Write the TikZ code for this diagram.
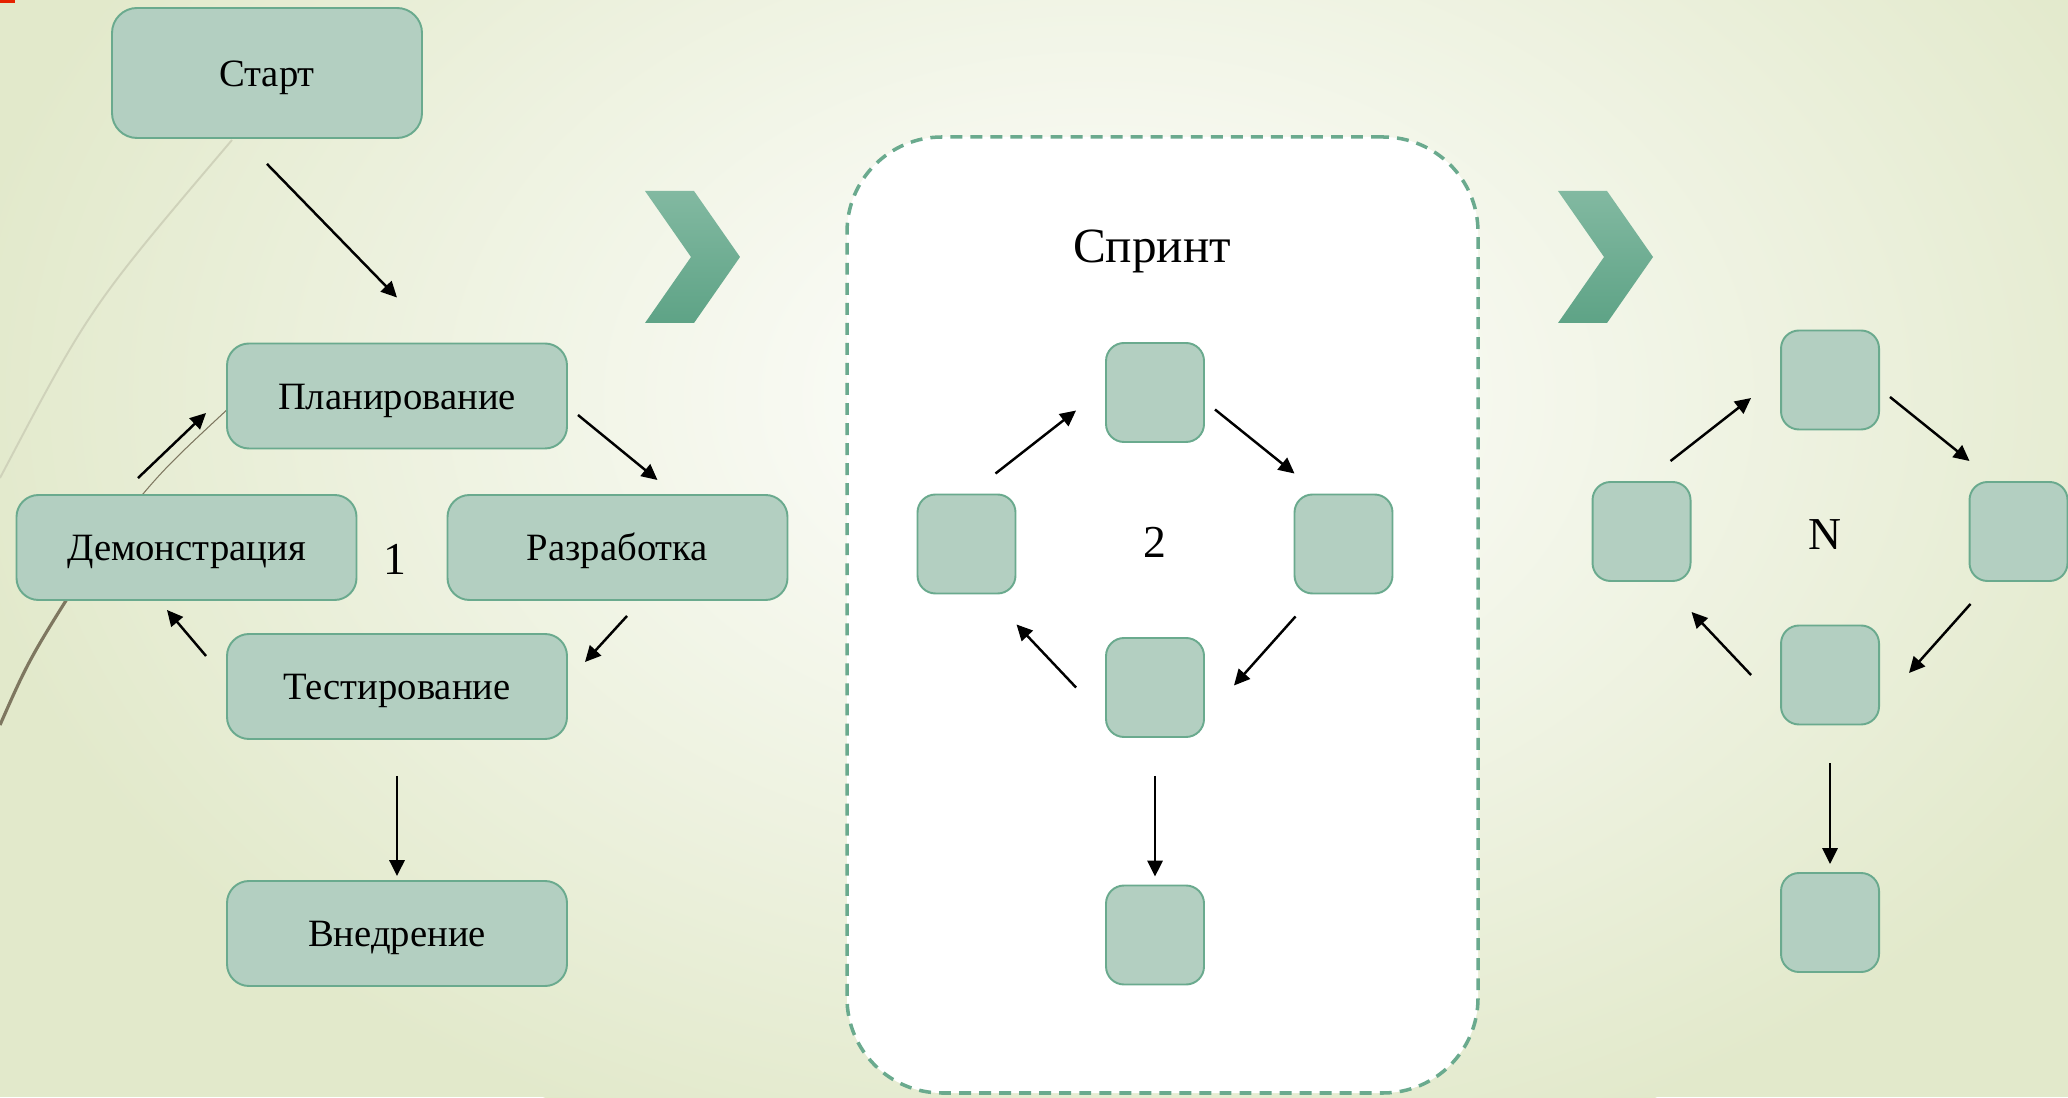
\documentclass[tikz,border=0pt]{standalone}
\usepackage{fontspec}
\setmainfont{Liberation Serif}
\usetikzlibrary{arrows.meta,shapes.geometric}

\definecolor{boxfill}{HTML}{B3CFC1}
\definecolor{boxline}{HTML}{6AAA8E}
\definecolor{bgouter}{HTML}{E2E9CB}
\definecolor{chevtop}{HTML}{82B9A1}
\definecolor{chevbot}{HTML}{5EA386}
\definecolor{wisplight}{HTML}{CFD2BA}
\definecolor{wispdark}{HTML}{7E7760}

\begin{document}
\begin{tikzpicture}[
    phase/.style={draw=boxline, line width=0.55pt, fill=boxfill, rounded corners=0.22cm,
      minimum width=3.4cm, minimum height=1.05cm, inner sep=0pt,
      text height=0.9em, text depth=0.14em, font=\fontsize{11}{13}\selectfont},
    cell/.style={draw=boxline, line width=0.55pt, fill=boxfill, rounded corners=0.18cm,
      minimum width=0.98cm, minimum height=0.99cm, inner sep=0pt},
    frame/.style={draw=boxline, line width=1pt, dash pattern=on 3.4pt off 2.3pt, fill=white,
      rounded corners=0.95cm, inner sep=0pt},
    flow/.style={-{Triangle[length=4.5pt,width=4.3pt]}, line width=0.7pt, black},
    chevron/.style={top color=chevtop, bottom color=chevbot},
    count/.style={font=\fontsize{13}{15}\selectfont},
]

\useasboundingbox (0,0) rectangle (20.68,10.97);

% Background
\fill[bgouter] (0,0) rectangle (20.68,10.97);
\begin{scope}
  \clip (0,0) rectangle (20.68,10.97);
  \shade[inner color=white, outer color=bgouter] (11.0,7.0) ellipse (11.5cm and 8cm);
\end{scope}
\fill[red!70!orange!90!black] (0,10.94) rectangle (0.15,10.97);
\draw[wisplight, line width=0.55pt] (0,6.19) .. controls (0.9,7.9) .. (2.32,9.57);
\draw[wispdark, line width=0.9pt] (0,3.72) .. controls (0.3,4.4) .. (1.0,5.5);
\draw[wispdark, line width=0.3pt] (1.0,5.5) .. controls (1.6,6.25) .. (2.3,6.9);

% First iteration
\node[phase, minimum width=3.1cm, minimum height=1.3cm, rounded corners=0.25cm] (start) at (2.67,10.24) {Старт};
\node[phase] (plan) at (3.97,7.01) {Планирование};
\node[phase] (demo) at (1.865,5.495) {Демонстрация};
\node[phase] (dev) at (6.175,5.495) {Разработка};
\node[phase] (test) at (3.97,4.105) {Тестирование};
\node[phase] (deploy) at (3.97,1.635) {Внедрение};
\node[count] (one) at (3.95,5.38) {1};

\draw[flow] ([yshift=-0.25cm]start.south) -- ([yshift=0.45cm]plan.north);
\draw[flow] ([xshift=0.10cm,yshift=-0.19cm]plan.east) -- ([xshift=0.40cm,yshift=0.14cm]dev.north);
\draw[flow] ([xshift=0.095cm,yshift=-0.15cm]dev.south) -- ([xshift=0.17cm,yshift=0.245cm]test.east);
\draw[flow] ([xshift=-0.20cm,yshift=0.305cm]test.west) -- ([xshift=-0.195cm,yshift=-0.09cm]demo.south);
\draw[flow] ([xshift=-0.485cm,yshift=0.16cm]demo.north) -- ([xshift=-0.20cm,yshift=-0.17cm]plan.west);
\draw[flow, shorten <=0.36cm, shorten >=0.04cm] (test.south) -- (deploy.north);

% Chevrons
\foreach \cx in {6.45,15.58}{
  \shade[chevron] (\cx,9.06) -- ++(0.49,0) -- ++(0.46,-0.66) -- ++(-0.46,-0.66)
    -- ++(-0.49,0) -- ++(0.46,0.66) -- cycle;
}

% Sprint frame
\node[frame, minimum width=6.31cm, minimum height=9.56cm] (sprintbox) at (11.625,4.82) {};
\node[font=\fontsize{14}{16}\selectfont] (sprint) at (11.52,8.46) {Спринт};

% Sprint 2 and sprint N
\foreach \loopname/\x/\y/\mark/\dx/\dy in {two/11.55/7.045/2/0/-1.5, last/18.30/7.17/N/-0.05/-1.55}{
  \begin{scope}[shift={(\x,\y)}]
    \node[cell] (\loopname-top) at (0,0) {};
    \node[cell] (\loopname-left) at (-1.885,-1.515) {};
    \node[cell] (\loopname-right) at (1.885,-1.515) {};
    \node[cell] (\loopname-bottom) at (0,-2.95) {};
    \node[cell] (\loopname-end) at (0,-5.425) {};
    \node[count] (\loopname-mark) at (\dx,\dy) {\mark};

    \draw[flow] ([xshift=0.29cm,yshift=0.2cm]\loopname-left.north) -- ([xshift=-0.29cm,yshift=-0.18cm]\loopname-top.west);
    \draw[flow] ([xshift=0.1cm,yshift=-0.17cm]\loopname-top.east) -- ([xshift=-0.49cm,yshift=0.2cm]\loopname-right.north);
    \draw[flow] ([xshift=-0.48cm,yshift=-0.22cm]\loopname-right.south) -- ([xshift=0.29cm,yshift=0.02cm]\loopname-bottom.east);
    \draw[flow] ([xshift=-0.29cm]\loopname-bottom.west) -- ([xshift=0.5cm,yshift=-0.3cm]\loopname-left.south);
    \draw[flow, shorten <=0.38cm, shorten >=0.08cm] (\loopname-bottom.south) -- (\loopname-end.north);
  \end{scope}
}

\end{tikzpicture}
\end{document}
